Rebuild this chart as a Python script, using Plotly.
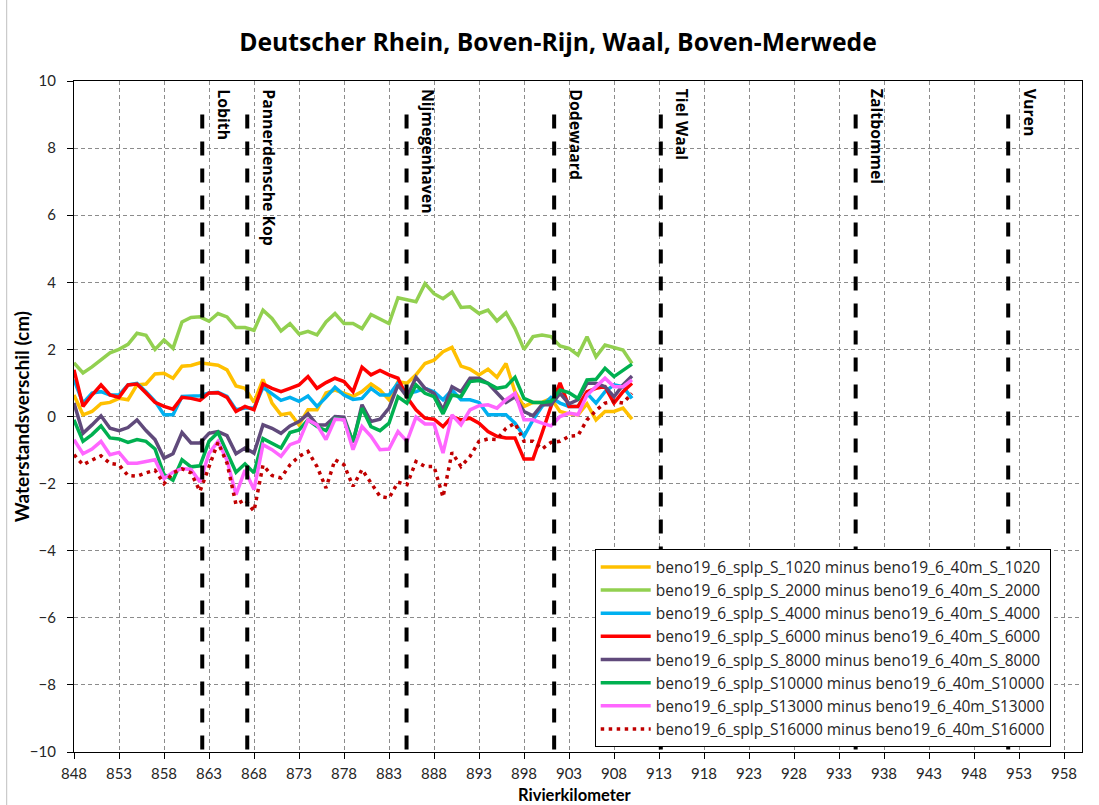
import plotly.graph_objects as go

km = [848, 849, 850, 851, 852, 853, 854, 855, 856, 857, 858, 859, 860, 861, 862, 863,
      864, 865, 866, 867, 868, 869, 870, 871, 872, 873, 874, 875, 876, 877, 878, 879,
      880, 881, 882, 883, 884, 885, 886, 887, 888, 889, 890, 891, 892, 893, 894, 895,
      896, 897, 898, 899, 900, 901, 902, 903, 904, 905, 906, 907, 908, 909, 910]

s1020 = [0.64, 0.05, 0.15, 0.38, 0.42, 0.54, 0.5, 0.94, 0.97, 1.27, 1.29, 1.14, 1.5, 1.52, 1.6, 1.56,
         1.53, 1.39, 0.91, 0.84, 0.42, 1.11, 0.4, 0.05, 0.1, -0.25, 0.2, 0.2, 0.7, 0.79, 0.7, 0.6,
         0.74, 0.97, 0.79, 0.5, 1.04, 0.99, 1.24, 1.58, 1.68, 1.93, 2.06, 1.5, 1.41, 1.24, 1.41, 1.17,
         1.58, 0.74, 0.3, 0.42, 0.42, 0.54, 0.15, 0.08, 0.05, 0.38, -0.1, 0.15, 0.15, 0.25, -0.08]
s2000 = [1.6, 1.3, 1.48, 1.7, 1.9, 2.0, 2.15, 2.48, 2.42, 2.0, 2.28, 2.03, 2.82, 2.95, 2.97, 2.84,
         3.07, 2.97, 2.65, 2.65, 2.57, 3.17, 2.92, 2.55, 2.77, 2.46, 2.54, 2.43, 2.82, 3.07, 2.77, 2.77,
         2.62, 3.04, 2.89, 2.77, 3.54, 3.47, 3.42, 3.96, 3.66, 3.51, 3.71, 3.25, 3.27, 3.07, 3.17, 2.85,
         3.09, 2.62, 2.0, 2.38, 2.43, 2.38, 2.1, 2.03, 1.83, 2.38, 1.78, 2.13, 2.06, 1.98, 1.58]
s4000 = [1.1, 0.4, 0.7, 0.74, 0.64, 0.64, 0.94, 0.99, 0.74, 0.45, 0.05, 0.05, 0.6, 0.6, 0.62, 0.7,
         0.72, 0.6, 0.2, 0.25, 0.25, 0.87, 0.69, 0.48, 0.57, 0.45, 0.61, 0.3, 0.57, 0.87, 0.64, 0.51,
         0.54, 0.84, 0.64, 0.64, 1.0, 0.69, 0.74, 0.84, 0.74, 0.5, 0.79, 0.5, 0.5, 0.42, 0.05, 0.05,
         0.05, -0.2, -0.59, -0.1, 0.3, 0.57, 0.4, 0.3, 0.3, 0.69, 0.4, 0.74, 0.94, 0.89, 0.54]
s6000 = [1.39, 0.3, 0.64, 0.94, 0.64, 0.57, 0.94, 0.97, 0.7, 0.42, 0.3, 0.22, 0.57, 0.54, 0.48, 0.7,
         0.71, 0.57, 0.15, 0.3, 0.2, 0.97, 0.84, 0.74, 0.84, 0.94, 1.19, 0.84, 1.01, 1.14, 1.04, 0.74,
         1.47, 1.24, 1.37, 1.24, 1.14, 0.57, 0.2, -0.05, -0.08, -0.3, 0.0, -0.1, -0.05, -0.2, -0.45, -0.59,
         -0.64, -0.64, -1.27, -1.27, -0.5, 0.3, 1.0, 0.3, 0.3, 0.74, 0.84, 0.89, 0.4, 0.74, 0.99]
s8000 = [0.4, -0.5, -0.25, 0.02, -0.35, -0.42, -0.33, -0.1, -0.42, -0.69, -1.24, -1.11, -0.48, -0.79, -0.79, -0.5,
         -0.45, -0.57, -1.11, -0.94, -1.09, -0.25, -0.35, -0.5, -0.28, -0.15, 0.08, -0.25, -0.25, 0.0, -0.02, -0.77,
         0.35, -0.15, -0.08, 0.25, 0.94, 0.59, 1.17, 0.84, 0.69, 0.2, 0.89, 0.74, 1.14, 1.14, 0.99, 0.69,
         0.42, 0.59, 0.15, 0.02, 0.35, 0.35, 0.69, 0.38, 0.5, 0.99, 0.99, 0.89, 0.59, 0.94, 1.21]
s10000 = [-0.1, -0.74, -0.54, -0.28, -0.64, -0.67, -0.77, -0.69, -0.74, -0.97, -1.73, -1.9, -1.29, -1.5, -1.47, -0.74,
          -0.48, -1.09, -1.66, -1.41, -1.68, -0.66, -0.79, -0.94, -0.48, -0.4, -0.1, -0.3, -0.42, -0.05, -0.1, -0.74,
          0.25, -0.3, -0.42, -0.2, 0.59, 0.4, 0.94, 0.69, 0.59, 0.08, 0.64, 0.59, 1.04, 1.07, 0.99, 0.84,
          0.89, 1.17, 0.54, 0.42, 0.42, 0.45, 0.79, 0.71, 0.54, 1.09, 1.11, 1.44, 1.19, 1.39, 1.56]
s13000 = [-0.69, -1.11, -0.97, -0.74, -1.14, -1.07, -1.39, -1.39, -1.34, -1.29, -1.85, -1.66, -1.55, -1.58, -1.95, -1.1,
          -0.74, -1.3, -2.33, -1.6, -2.18, -0.84, -0.99, -1.19, -0.84, -0.74, -0.1, -0.25, -0.69, -0.08, -0.1, -0.99,
          -0.3, -0.59, -0.99, -0.97, -0.45, -0.74, -0.02, -0.22, -0.22, -1.09, 0.05, -0.25, 0.2, 0.32, 0.35, 0.25,
          0.5, 0.69, -0.1, -0.1, -0.2, -0.28, 0.0, 0.1, 0.05, 0.64, 0.89, 1.14, 0.89, 0.89, 1.09]
s16000 = [-1.14, -1.44, -1.3, -1.17, -1.4, -1.44, -1.76, -1.78, -1.68, -1.6, -2.0, -1.68, -1.56, -1.68, -2.23, -1.49,
          -0.77, -1.39, -2.62, -2.48, -2.82, -1.45, -1.76, -1.83, -1.44, -1.19, -1.04, -1.49, -2.13, -1.29, -1.44, -2.08,
          -1.58, -1.98, -2.38, -2.43, -1.96, -2.03, -1.34, -1.49, -1.49, -2.4, -1.07, -1.49, -1.19, -0.74, -0.67, -0.69,
          -0.35, -0.2, -0.74, -0.74, -0.97, -0.77, -0.74, -0.59, -0.57, -0.1, 0.18, 0.4, 0.45, 0.4, 0.69]

series_names = [
    "beno19_6_splp_S_1020 minus beno19_6_40m_S_1020",
    "beno19_6_splp_S_2000 minus beno19_6_40m_S_2000",
    "beno19_6_splp_S_4000 minus beno19_6_40m_S_4000",
    "beno19_6_splp_S_6000 minus beno19_6_40m_S_6000",
    "beno19_6_splp_S_8000 minus beno19_6_40m_S_8000",
    "beno19_6_splp_S10000 minus beno19_6_40m_S10000",
    "beno19_6_splp_S13000 minus beno19_6_40m_S13000",
    "beno19_6_splp_S16000 minus beno19_6_40m_S16000",
]
series_values = [s1020, s2000, s4000, s6000, s8000, s10000, s13000, s16000]
series_colors = ["#FFC000", "#92D050", "#00B0F0", "#FF0000", "#604A7B", "#00B050", "#FF66FF", "#C00000"]
series_dash = ["solid"] * 7 + ["3.5px,4.5px"]

station_names = ["Lobith", "Pannerdensche Kop", "Nijmegenhaven", "Dodewaard", "Tiel Waal", "Zaltbommel", "Vuren"]
station_km = [862.25, 867.25, 884.95, 901.35, 913.2, 934.85, 951.8]
station_y = [-10, 9]

x_ticks = [848, 853, 858, 863, 868, 873, 878, 883, 888, 893, 898, 903, 908, 913, 918, 923,
           928, 933, 938, 943, 948, 953, 958]

FONT = "Lato"
FONT2 = "Open Sans"
fig = go.Figure()

for name, vals, col, dsh in zip(series_names, series_values, series_colors, series_dash):
    fig.add_trace(go.Scatter(x=km, y=vals, mode="lines", name=name,
                             line=dict(color=col, width=3.5, dash=dsh)))

for skm in station_km:
    fig.add_trace(go.Scatter(x=[skm, skm], y=station_y[::-1], mode="lines", showlegend=False,
                             hoverinfo="skip", line=dict(color="black", width=4, dash="14px,13px")))

annotations = []
for sname, skm in zip(station_names, station_km):
    annotations.append(dict(x=skm, y=10, xref="x", yref="y", text="<b>%s</b>" % sname,
                            textangle=90, showarrow=False, xanchor="center", yanchor="top",
                            xshift=22, yshift=-6, font=dict(family=FONT2, size=15.8, color="black")))

annotations.append(dict(x=(22 - 74.3) / 1008, y=0.5, xref="paper", yref="paper",
                        text="<b>Waterstandsverschil (cm)</b>", textangle=-90, showarrow=False,
                        xanchor="center", yanchor="middle", font=dict(family=FONT, size=19, color="black")))
annotations.append(dict(x=(575 - 74.3) / 1008, y=(751.7 - 795) / 670.7, xref="paper", yref="paper",
                        text="<b>Rivierkilometer</b>", showarrow=False,
                        xanchor="center", yanchor="middle", font=dict(family=FONT, size=16.5, color="black")))

axis_common = dict(showgrid=True, gridcolor="#8C8C8C", griddash="4px,3px", gridwidth=1,
                   showline=True, linecolor="black", linewidth=1.3, mirror=True,
                   ticks="outside", ticklen=6, tickcolor="black", zeroline=False,
                   tickfont=dict(family=FONT, size=15, color="#262626"))

fig.update_layout(
    width=1099, height=805,
    margin=dict(l=74, r=17, t=81, b=53),
    paper_bgcolor="white", plot_bgcolor="white",
    title=dict(text="<b>Deutscher Rhein, Boven-Rijn, Waal, Boven-Merwede</b>",
               x=558 / 1099, xref="container", xanchor="center",
               y=1 - 42 / 805, yref="container", yanchor="middle",
               font=dict(family=FONT2, size=24.7, color="black")),
    xaxis=dict(range=[848, 960], tickmode="array", tickvals=x_ticks, ticklabelstandoff=2, **axis_common),
    yaxis=dict(range=[-10, 10], dtick=2, ticklabelstandoff=8, **axis_common),
    legend=dict(x=(595 - 74.3) / 1008, y=0.007, xanchor="left", yanchor="bottom",
                bgcolor="white", bordercolor="black", borderwidth=1, itemwidth=50,
                font=dict(family=FONT2, size=15.5, color="#262626")),
    annotations=annotations,
    shapes=[dict(type="line", xref="paper", yref="paper", x0=(7 - 74.3) / 1008, x1=(7 - 74.3) / 1008,
                 y0=-0.2, y1=1.2, line=dict(color="#BFBFBF", width=1))],
    showlegend=True,
)

fig.write_html("out.html", config={"displayModeBar": False},
               post_script="document.body.style.margin='0';document.body.style.overflow='hidden';")
